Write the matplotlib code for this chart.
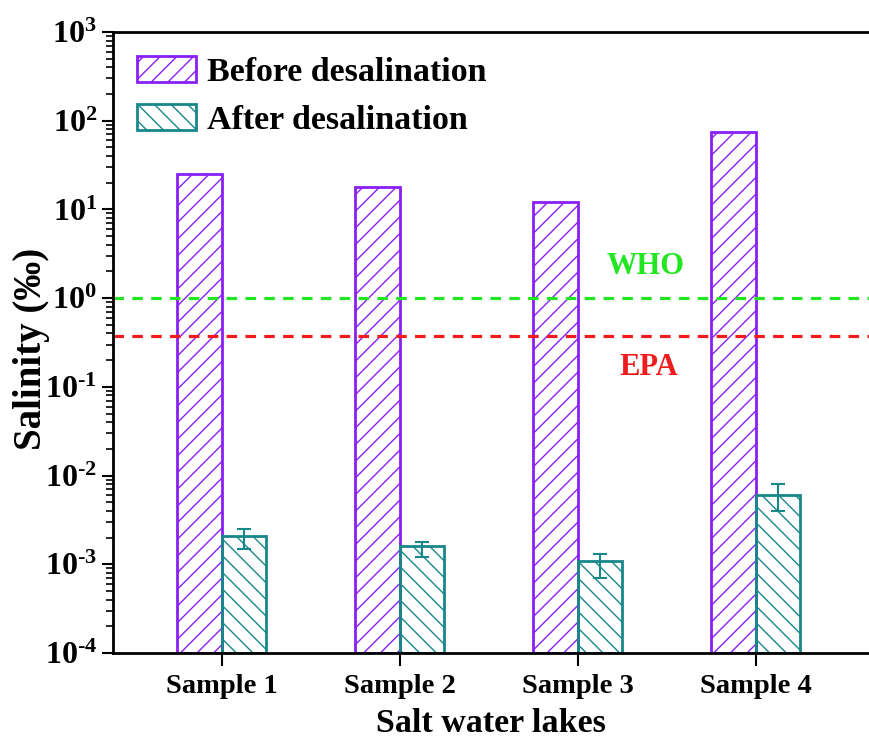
import numpy as np
import matplotlib
matplotlib.use('Agg')
import matplotlib.pyplot as plt
from matplotlib.ticker import FuncFormatter, LogLocator, NullFormatter

plt.rcParams['font.family'] = ['Liberation Serif', 'DejaVu Serif']
plt.rcParams['font.weight'] = 'bold'
plt.rcParams['mathtext.fontset'] = 'custom'
plt.rcParams['mathtext.rm'] = 'Liberation Serif:bold'
plt.rcParams['mathtext.bf'] = 'Liberation Serif:bold'
plt.rcParams['hatch.linewidth'] = 1.0

samples = ['Sample 1', 'Sample 2', 'Sample 3', 'Sample 4']
before = [25, 18, 12, 75]
after = [2.0e-3, 1.5e-3, 1.0e-3, 6.0e-3]
after_err = [0.5e-3, 0.3e-3, 0.3e-3, 2.0e-3]
who_limit = 1.0
epa_limit = 0.37

purple = '#8A1EF5'
teal = '#17878A'
green = '#22E622'
red = '#EE1C1C'


def decade_label(v, pos):
    # short hyphen in the exponent instead of the wide math minus
    n = int(round(np.log10(v)))
    exp = ('\u2010%d' % -n) if n < 0 else '%d' % n
    return r'$\mathbf{10^{%s}}$' % exp


fig = plt.figure(figsize=(8.69, 7.44), dpi=100)
ax = fig.add_axes([113 / 869, 1 - 653 / 744, 1 - 113 / 869, (653 - 32) / 744])

x = np.arange(1, len(samples) + 1)
w = 0.25
ax.bar(x - w / 2, before, w, bottom=1e-4, color='none', edgecolor=purple,
       hatch='//', linewidth=2, label='Before desalination')
ax.bar(x + w / 2, after, w, bottom=1e-4, color='none', edgecolor=teal,
       hatch='\\\\', linewidth=2, label='After desalination')
ax.errorbar(x + w / 2, after, yerr=after_err, fmt='none', ecolor=teal,
            elinewidth=1.5, capsize=5, capthick=1.5)

# guideline limits
ax.axhline(who_limit, color=green, lw=2.3, dashes=(3.3, 2.6))
ax.axhline(epa_limit, color=red, lw=2.3, dashes=(3.3, 2.6))
ax.text(3.38, 2.25, 'WHO', color=green, fontsize=22, fontweight='bold',
        ha='center', va='center')
ax.text(3.4, 0.165, 'EPA', color=red, fontsize=22, fontweight='bold',
        ha='center', va='center')

ax.set_yscale('log')
ax.set_ylim(1e-4, 1e3)
ax.set_xlim(0.388, 4.635)
ax.yaxis.set_major_locator(LogLocator(base=10, numticks=20))
ax.yaxis.set_minor_locator(LogLocator(base=10, subs=np.arange(2, 10), numticks=20))
ax.yaxis.set_major_formatter(FuncFormatter(decade_label))
ax.yaxis.set_minor_formatter(NullFormatter())
ax.set_xticks(x)
ax.set_xticklabels(samples, fontsize=20.5, fontweight='bold')
ax.tick_params(axis='y', which='major', length=8, width=1.5, labelsize=23, direction='out')
ax.tick_params(axis='y', which='minor', length=5, width=1.2, direction='out')
ax.tick_params(axis='x', length=9, width=1.5, direction='out', pad=6)

for s in ['left', 'bottom', 'top']:
    ax.spines[s].set_linewidth(2)
ax.spines['right'].set_visible(False)

ax.set_xlabel('Salt water lakes', fontsize=24.5, fontweight='bold')
ax.xaxis.set_label_coords(0.5, -0.088)
ax.set_ylabel('Salinity (‰)', fontsize=28, fontweight='bold')
ax.yaxis.set_label_coords(-0.083, 0.49)

ax.legend(loc='upper left', bbox_to_anchor=(0.0, 1.0), frameon=False,
          prop={'size': 24.5, 'weight': 'bold'}, handlelength=1.75, handleheight=0.8,
          handletextpad=0.3, labelspacing=0.48, borderaxespad=0.3)

fig.savefig('out.png', dpi=100)
